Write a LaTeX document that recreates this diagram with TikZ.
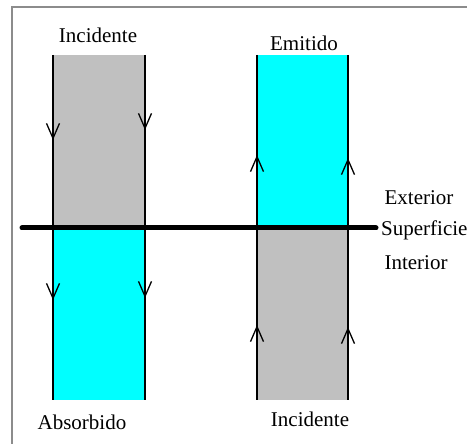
\documentclass[tikz,border=0pt]{standalone}
\usepackage{fontspec}
\setmainfont{Liberation Serif}
\usetikzlibrary{arrows.meta}

\definecolor{gris}{RGB}{192,192,192}
\definecolor{celeste}{RGB}{0,255,255}
\definecolor{marco}{RGB}{140,140,140}

\tikzset{
  borde/.style={line width=1.5pt},
  flecha/.style={line width=1.3pt,-{Straight Barb[length=15pt,width=13pt]}},
  rotulo/.style={font=\fontsize{21}{25}\selectfont, inner sep=0pt}
}

\begin{document}
\begin{tikzpicture}[x=1pt,y=-1pt]
    \useasboundingbox (0,0) rectangle (467,444);
    % marco
    \draw[marco, line width=1.5pt] (12,444) -- (12,7) -- (467,7);
    \begin{scope}
      % haz incidente y absorbido
      \fill[gris] (53,55) rectangle (145,228);
      \fill[celeste] (53,228) rectangle (145,400);
      \draw[borde] (53,55) -- (53,400);
      \draw[borde] (145,55) -- (145,400);
      \draw[flecha] (53,120) -- (53,140);
      \draw[flecha] (145,110) -- (145,130);
      \draw[flecha] (53,280) -- (53,300);
      \draw[flecha] (145,278) -- (145,298);
      \node[rotulo] (incA) at (98,35) {Incidente};
      \node[rotulo] (abs) at (82,422) {Absorbido};
    \end{scope}
    \begin{scope}
      % haz incidente y emitido
      \fill[celeste] (257,55) rectangle (348,228);
      \fill[gris] (257,228) rectangle (348,400);
      \draw[borde] (257,55) -- (257,400);
      \draw[borde] (348,55) -- (348,400);
      \draw[flecha] (257,175) -- (257,155);
      \draw[flecha] (348,178) -- (348,158);
      \draw[flecha] (257,345) -- (257,325);
      \draw[flecha] (348,347) -- (348,327);
      \node[rotulo] (emi) at (304,43) {Emitido};
      \node[rotulo] (incB) at (310,419) {Incidente};
    \end{scope}
    % superficie
    \draw[line width=5pt, line cap=round] (22,228) -- (376,228);
    \node[rotulo] (ext) at (419,198) {Exterior};
    \node[rotulo, anchor=west] (sup) at (381,230) {Superficie};
    \node[rotulo] (int) at (416,263) {Interior};
  \end{tikzpicture}
\end{document}
